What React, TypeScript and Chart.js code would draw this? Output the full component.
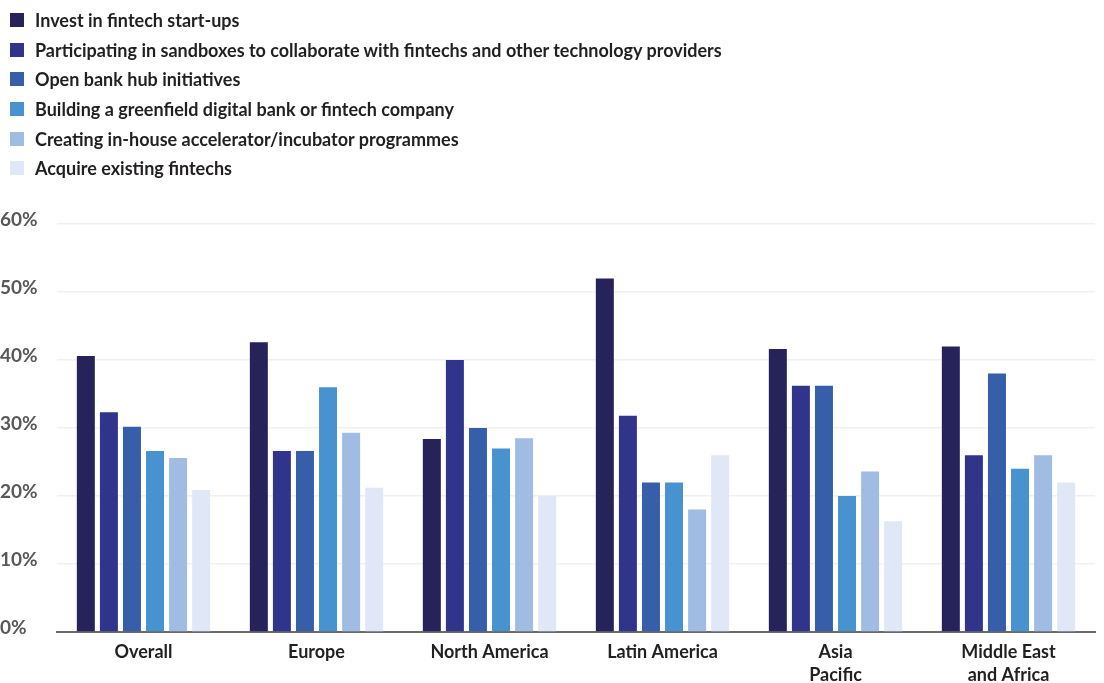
import React, { useEffect, useRef } from "react";
import { Chart, registerables } from "chart.js";
Chart.register(...registerables);

const categories: string[][] = [
  ["Overall"],
  ["Europe"],
  ["North America"],
  ["Latin America"],
  ["Asia", "Pacific"],
  ["Middle East", "and Africa"],
];
const seriesLabels = [
  "Invest in fintech start-ups",
  "Participating in sandboxes to collaborate with fintechs and other technology providers",
  "Open bank hub initiatives",
  "Building a greenfield digital bank or fintech company",
  "Creating in-house accelerator/incubator programmes",
  "Acquire existing fintechs",
];
const seriesColors = ["#26225a", "#30348a", "#375ea8", "#4893cf", "#a0bce3", "#e0e7f6"];
const investStartups = [40.6, 42.6, 28.4, 52, 41.6, 42];
const sandboxes = [32.3, 26.6, 40, 31.8, 36.2, 26];
const openBankHub = [30.2, 26.6, 30, 22, 36.2, 38];
const greenfield = [26.6, 36, 27, 22, 20, 24];
const accelerator = [25.6, 29.3, 28.5, 18, 23.6, 26];
const acquire = [20.9, 21.2, 20, 26, 16.3, 22];
const seriesValues = [investStartups, sandboxes, openBankHub, greenfield, accelerator, acquire];
const yMin = 0;
const yMax = 60;
const yStep = 10;

const FONT = "Lato, 'Noto Sans', sans-serif";

export default function App() {
  const ref = useRef<HTMLCanvasElement | null>(null);
  useEffect(() => {
    if (!ref.current) return;
    const chart = new Chart(ref.current, {
      type: "bar",
      data: {
        labels: categories,
        datasets: seriesValues.map((vals, i) => ({
          label: seriesLabels[i],
          data: vals,
          backgroundColor: seriesColors[i],
          borderWidth: 0,
          barPercentage: 0.78,
          categoryPercentage: 0.8,
        })),
      },
      options: {
        animation: false,
        responsive: false,
        maintainAspectRatio: false,
        layout: { padding: { top: 224, right: 9, left: 0, bottom: 0 } },
        plugins: {
          legend: { display: false },
          tooltip: { enabled: false },
        },
        scales: {
          x: {
            grid: { display: false, drawTicks: false },
            border: { display: true, color: "#6b6b6b", width: 2 },
            ticks: {
              color: "#231f20",
              font: { family: FONT, size: 18, weight: "bold", lineHeight: 1.28 },
              padding: 9,
              maxRotation: 0,
              autoSkip: false,
            },
            afterFit: (s: any) => {
              s.height = 51;
            },
          },
          y: {
            min: yMin,
            max: yMax,
            grid: { color: "#f1f1f1", lineWidth: 1.5, drawTicks: false },
            border: { display: false },
            ticks: {
              stepSize: yStep,
              color: "#58585a",
              font: { family: FONT, size: 19, weight: "bold" },
              crossAlign: "far",
              padding: 0,
              labelOffset: -4,
              callback: (v: any) => v + "%",
            },
            afterFit: (s: any) => {
              s.width = 57;
            },
          },
        },
      },
    });
    return () => chart.destroy();
  }, []);

  return (
    <div style={{ position: "absolute", left: 0, top: 0, width: 1104, height: 683, background: "#fff" }}>
      <canvas ref={ref} width={1104} height={683} style={{ position: "absolute", left: 0, top: 0 }} />
      <div style={{ position: "absolute", left: 10, top: 5 }}>
        {seriesLabels.map((l, i) => (
          <div
            key={l}
            style={{
              display: "flex",
              alignItems: "center",
              height: 29.7,
              fontFamily: FONT,
              fontWeight: 700,
              fontSize: 18,
              color: "#231f20",
              whiteSpace: "nowrap",
            }}
          >
            <span
              style={{
                display: "inline-block",
                width: 14,
                height: 14,
                background: seriesColors[i],
                marginRight: 11,
              }}
            />
            {l}
          </div>
        ))}
      </div>
    </div>
  );
}
